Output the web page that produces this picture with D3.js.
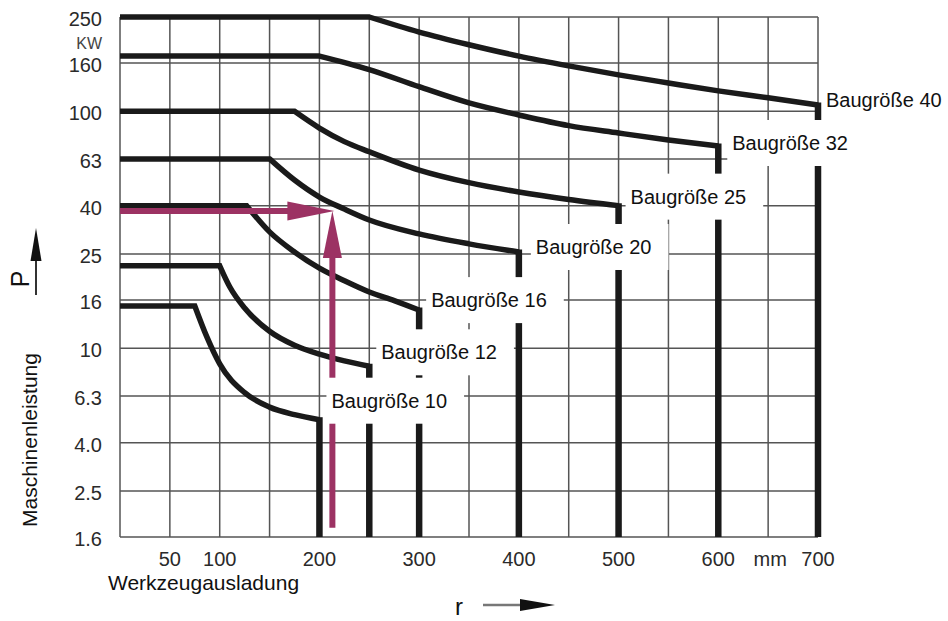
<!DOCTYPE html>
<html><head><meta charset="utf-8">
<script src="https://cdn.jsdelivr.net/npm/d3@7"></script>
<style>
body{margin:0;background:#fff}
svg{display:block}
text{font-family:"Liberation Sans",Arial,Helvetica,sans-serif}
</style>
</head><body>
<svg id="c" width="948" height="621"></svg>
<script>
// ---------------- data ----------------
const powerTicks = [1.6, 2.5, 4.0, 6.3, 10, 16, 25, 40, 63, 100, 160, 250];
const powerTickLabels = ["1.6", "2.5", "4.0", "6.3", "10", "16", "25", "40", "63", "100", "160", "250"];
const rGrid = [0, 50, 100, 150, 200, 250, 300, 350, 400, 450, 500, 550, 600, 650, 700];
const rTickLabels = [50, 100, 200, 300, 400, 500, 600, 700];
const sizeNames = ["Baugröße 10", "Baugröße 12", "Baugröße 16", "Baugröße 20", "Baugröße 25", "Baugröße 32", "Baugröße 40"];
// [r (mm), P (kW)]
const b10 = [[0,15.1],[75,15.1],[87,11.2],[100,8.6],[125,6.5],[150,5.65],[175,5.25],[200,5.0]];
const b12 = [[0,22.3],[100,22.3],[110,18.2],[125,14.8],[150,11.8],[175,10.3],[200,9.45],[225,8.85],[250,8.4]];
const b16 = [[0,40],[127,40],[150,31],[175,25.5],[200,21.8],[225,19.3],[250,17.3],[275,15.9],[300,14.5]];
const b20 = [[0,63],[150,63],[175,51.3],[200,43.5],[225,38.7],[250,34.8],[300,30.4],[350,27.6],[400,25.5]];
const b25 = [[0,100],[175,100],[200,85],[225,74.5],[250,67.5],[300,56.5],[350,50],[400,45.7],[450,42.5],[500,40]];
const b32 = [[0,171],[200,171],[250,150],[300,127],[350,108.5],[400,96.5],[450,87],[500,81],[550,75.7],[600,71.4]];
const b40 = [[0,250],[250,250],[300,216],[350,191],[400,171],[450,155.5],[500,142.5],[550,131.7],[600,122],[650,114],[700,106.4]];
const seriesData = [b10, b12, b16, b20, b25, b32, b40];
// example reading (magenta arrows)
const exampleR = 215, exampleP = 38, exampleStartP = 1.75;

// ---------------- layout / style ----------------
const labelDx = [12, 12, 12, 17, 12, 14, 8];
const labelDy = [-19, -14, -10, -5, -9, -3, -5];
const magenta = "#9c3263";

const svg = d3.select("#c");
const x = d3.scaleLinear().domain([0, 700]).range([120, 818]);
const y = d3.scaleLog().domain([1.6, 250]).range([537, 17]);

// grid
const g = svg.append("g");
g.selectAll("line.v").data(rGrid).join("line")
  .attr("x1", d => x(d)).attr("x2", d => x(d))
  .attr("y1", y(1.6)).attr("y2", y(250))
  .attr("stroke", "#555").attr("stroke-width", 1.5);
g.selectAll("line.h").data(powerTicks).join("line")
  .attr("x1", x(0)).attr("x2", x(700))
  .attr("y1", d => y(d)).attr("y2", d => y(d))
  .attr("stroke", "#555").attr("stroke-width", 1.5);

// y tick labels
svg.append("g").selectAll("text").data(powerTicks).join("text")
  .attr("x", 102).attr("y", d => y(d) + 2)
  .attr("text-anchor", "end").attr("dominant-baseline", "central")
  .attr("font-size", 20).attr("fill", "#2a2a2a")
  .text((d, i) => powerTickLabels[i]);
svg.append("text").attr("x", 102).attr("y", 43)
  .attr("text-anchor", "end").attr("dominant-baseline", "central")
  .attr("font-size", 16).attr("fill", "#444").text("KW");

// x tick labels
svg.append("g").selectAll("text").data(rTickLabels).join("text")
  .attr("x", d => x(d)).attr("y", 566)
  .attr("text-anchor", "middle").attr("font-size", 20).attr("fill", "#2a2a2a")
  .text(d => d);
svg.append("text").attr("x", (x(600) + x(700)) / 2 + 2).attr("y", 566)
  .attr("text-anchor", "middle").attr("font-size", 20).attr("fill", "#2a2a2a").text("mm");

// curves
const lineFlat = d3.line().x(d => x(d[0])).y(d => y(d[1]));
const lineCurve = d3.line().x(d => x(d[0])).y(d => y(d[1])).curve(d3.curveMonotoneX);
const cg = svg.append("g");
seriesData.forEach(pts => {
  const path = lineFlat(pts.slice(0, 2)) + lineCurve(pts.slice(1)).replace(/^M/, "L");
  cg.append("path").attr("d", path).attr("fill", "none")
    .attr("stroke", "#1a1a1a").attr("stroke-width", 5.5).attr("stroke-linejoin", "miter");
  const end = pts[pts.length - 1];
  cg.append("line").attr("x1", x(end[0])).attr("x2", x(end[0]))
    .attr("y1", y(end[1]) - 2.5).attr("y2", y(1.6))
    .attr("stroke", "#1a1a1a").attr("stroke-width", 6.5);
});

// magenta arrows
const ax = x(exampleR), ay = y(exampleP);
svg.append("line").attr("x1", x(0)).attr("x2", ax - 46).attr("y1", ay).attr("y2", ay)
  .attr("stroke", magenta).attr("stroke-width", 6);
svg.append("polygon").attr("points", `${ax},${ay} ${ax-47},${ay-9.5} ${ax-47},${ay+9.5}`).attr("fill", magenta);
svg.append("line").attr("x1", ax - 2).attr("x2", ax - 2).attr("y1", y(exampleStartP)).attr("y2", ay + 44)
  .attr("stroke", magenta).attr("stroke-width", 6);
svg.append("polygon").attr("points", `${ax-2},${ay} ${ax-11.5},${ay+47} ${ax+7.5},${ay+47}`).attr("fill", magenta);

// labels with white boxes
const lg = svg.append("g");
seriesData.forEach((pts, i) => {
  const end = pts[pts.length - 1];
  const tx = x(end[0]) + labelDx[i];
  const cy = y(end[1]) + labelDy[i];
  const box = lg.append("rect").attr("fill", "#fff");
  const t = lg.append("text").attr("x", tx).attr("y", cy + 7)
    .attr("font-size", 20).attr("fill", "#111").text(sizeNames[i]);
  const w = t.node().getComputedTextLength();
  if (i < seriesData.length - 1) {
    box.attr("x", tx - 5).attr("y", cy - 23).attr("width", w + 22).attr("height", 46);
  } else box.remove();
});

// axis titles
svg.append("text").attr("transform", "translate(37,527) rotate(-90)")
  .attr("font-size", 21).attr("fill", "#111").text("Maschinenleistung");
svg.append("text").attr("x", 108).attr("y", 590)
  .attr("font-size", 21).attr("fill", "#111").text("Werkzeugausladung");

// P with arrow
svg.append("text").attr("transform", "translate(29,279) rotate(-90)")
  .attr("text-anchor", "middle").attr("font-size", 25).attr("fill", "#111").text("P");
svg.append("line").attr("x1", 36).attr("x2", 36).attr("y1", 295).attr("y2", 258)
  .attr("stroke", "#333").attr("stroke-width", 2);
svg.append("polygon").attr("points", "36,228 30.5,261 41.5,261").attr("fill", "#111");

// r with arrow
svg.append("text").attr("x", 455).attr("y", 615)
  .attr("font-size", 24).attr("fill", "#111").text("r");
svg.append("line").attr("x1", 483).attr("x2", 522).attr("y1", 605).attr("y2", 605)
  .attr("stroke", "#777").attr("stroke-width", 2.5);
svg.append("polygon").attr("points", "520,599 555,605 520,611").attr("fill", "#111");
</script>
</body></html>
